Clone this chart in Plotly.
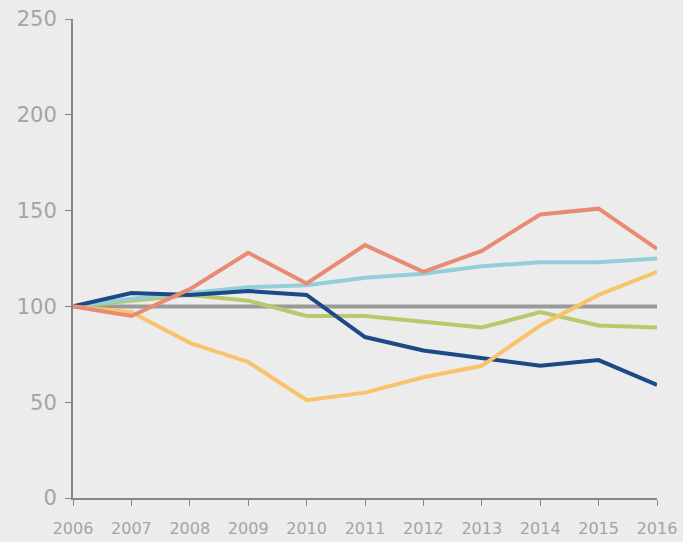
import plotly.graph_objects as go

years = list(range(2006, 2017))
red = [100, 95, 109, 128, 112, 132, 118, 129, 148, 151, 130]
light_blue = [100, 104, 107, 110, 111, 115, 117, 121, 123, 123, 125]
gray = [100] * 11
green = [100, 103, 106, 103, 95, 95, 92, 89, 97, 90, 89]
dark_blue = [100, 107, 106, 108, 106, 84, 77, 73, 69, 72, 59]
orange = [100, 97, 81, 71, 51, 55, 63, 69, 90, 106, 118]
y_ticks = [0, 50, 100, 150, 200, 250]

series = [
    ("gray", gray, "#9a9a9a"),
    ("green", green, "#b8c96c"),
    ("light_blue", light_blue, "#93cfd8"),
    ("dark_blue", dark_blue, "#1c4a86"),
    ("orange", orange, "#f7c46c"),
    ("red", red, "#e98a72"),
]

fig = go.Figure()
for name, vals, col in series:
    fig.add_trace(go.Scatter(x=years, y=vals, mode="lines", name=name,
                             line=dict(color=col, width=4)))

fig.update_layout(
    width=683, height=542,
    paper_bgcolor="#ececec", plot_bgcolor="#ececec",
    margin=dict(l=73, r=26, t=19, b=44),
    showlegend=False,
    font=dict(family="DejaVu Sans, sans-serif", color="#a0a0a0"),
)
fig.update_xaxes(range=[2006, 2016], tickvals=years, ticktext=[str(y) for y in years],
                 showgrid=False, zeroline=False, showline=True, linecolor="#888888",
                 linewidth=2, ticks="outside", ticklen=6, tickcolor="#888888",
                 ticklabelstandoff=9, automargin=False,
                 tickfont=dict(size=16, color="#a4a4a4"))
fig.update_yaxes(range=[0, 250], tickvals=y_ticks,
                 showgrid=False, zeroline=False, showline=True, linecolor="#888888",
                 linewidth=2, ticks="outside", ticklen=6, tickcolor="#888888",
                 ticklabelstandoff=4, automargin=False,
                 tickfont=dict(size=21, color="#a4a4a4"))

fig.write_html("out.html", config={"displayModeBar": False},
               post_script="document.body.style.margin='0';")
